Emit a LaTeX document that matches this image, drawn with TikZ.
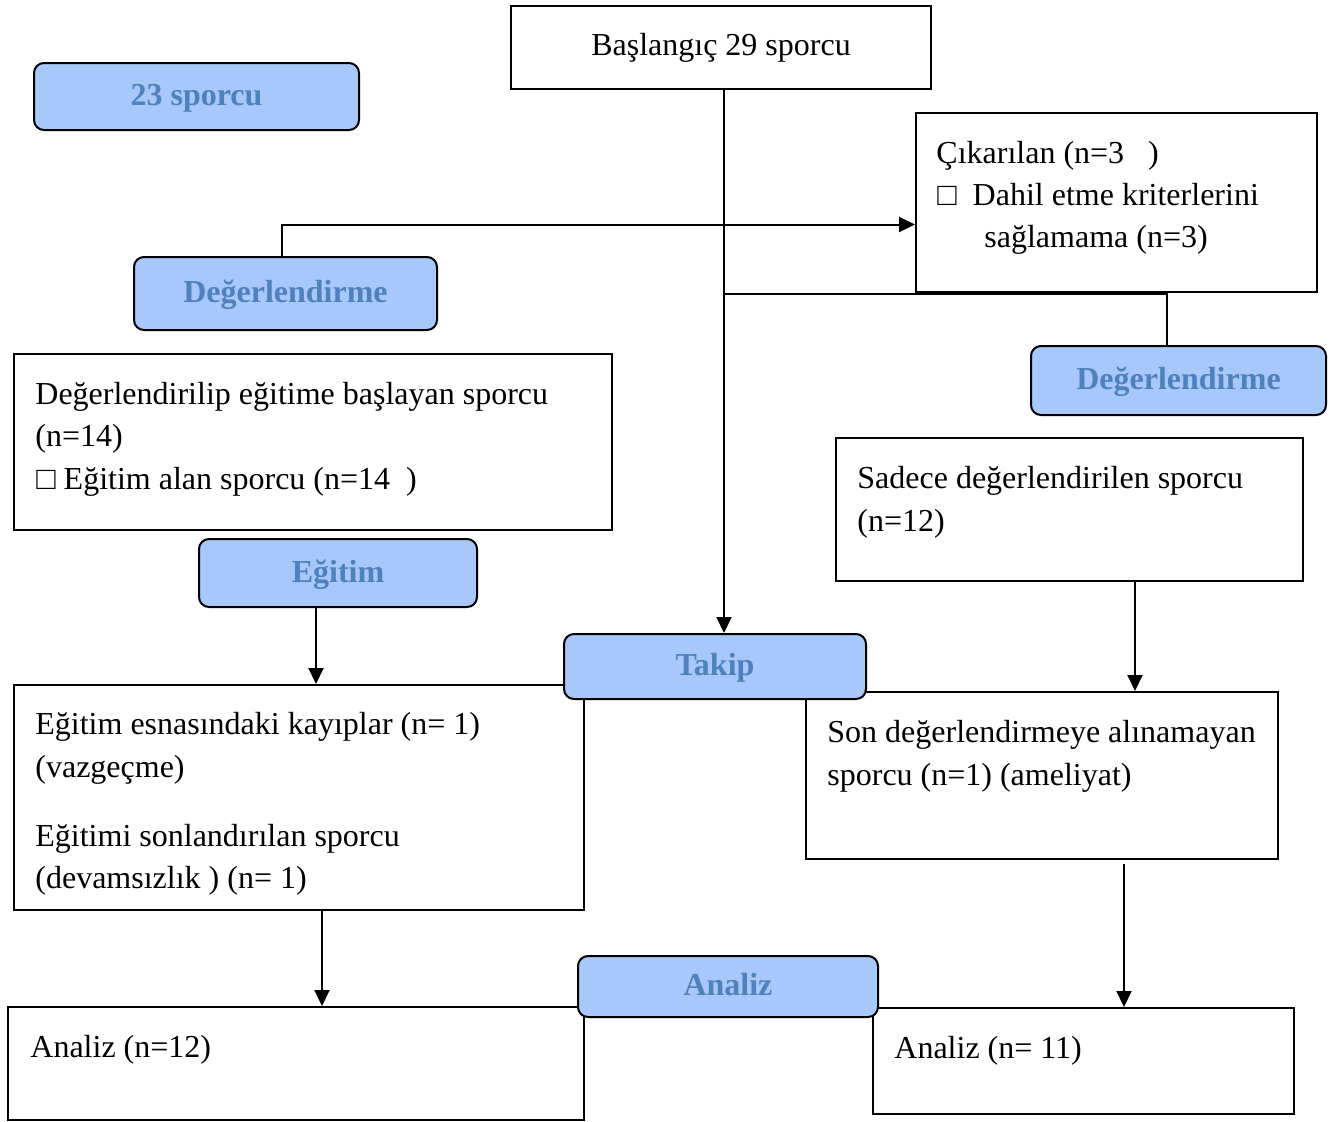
\documentclass[tikz,border=0pt]{standalone}
\usepackage{fontspec}
\setmainfont{Liberation Serif}
\usetikzlibrary{calc,positioning,arrows.meta}
\definecolor{stepfill}{HTML}{A8C7FA}
\definecolor{steptext}{HTML}{4F81BD}

\begin{document}
\begin{tikzpicture}[x=0.5pt, y=-0.5pt, font=\fontsize{16}{19}\selectfont,
    box/.style 2 args={draw, line width=1pt, minimum width=#1, minimum height=#2, inner sep=0pt},
    stepbox/.style 2 args={box={#1}{#2}, rounded corners=5pt, fill=stepfill, text=steptext,
      font=\fontsize{16}{19}\selectfont\bfseries, text height=11pt, text depth=2pt},
    txt/.style={anchor=mid west, inner sep=0pt},
    arr/.style={-{Triangle[length=8pt,width=7.5pt]}, line width=1pt}]
    \useasboundingbox (0,0) rectangle (1335,1121);

    % plain boxes
    \node[box={210pt}{41.5pt}] (start) at (721,47.5) {Başlangıç 29 sporcu};
    \node[box={200.5pt}{89.5pt}] (exclu) at (1116.5,202.5) {};
    \node[box={299pt}{88pt}] (started) at (313,442) {};
    \node[box={233.5pt}{71.5pt}] (evalonly) at (1069.5,509.5) {};
    \node[box={285pt}{112.5pt}] (loss) at (299,797.5) {};
    \node[box={236pt}{83.5pt}] (noeval) at (1042,775.5) {};
    \node[box={288pt}{56.5pt}] (anleft) at (296,1063.5) {};
    \node[box={210.5pt}{53pt}] (anright) at (1083.5,1061) {};

    % texts in the boxes
    \node[txt] (exclu1) at (936,159) {Çıkarılan (n=3\ \ \ )};
    \node[txt] (exclu2) at (937,201) {□\hspace{8pt}Dahil etme kriterlerini};
    \node[txt] (exclu3) at (984,243) {sağlamama (n=3)};
    \node[txt] (started1) at (35,400) {Değerlendirilip eğitime başlayan sporcu};
    \node[txt] (started2) at (35,442) {(n=14)};
    \node[txt] (started3) at (36,485) {□\hspace{4pt}Eğitim alan sporcu (n=14\ \ )};
    \node[txt] (evalonly1) at (857,484) {Sadece değerlendirilen sporcu};
    \node[txt] (evalonly2) at (857,527) {(n=12)};
    \node[txt] (loss1) at (35,730) {Eğitim esnasındaki kayıplar (n= 1)};
    \node[txt] (loss2) at (35,773) {(vazgeçme)};
    \node[txt] (loss3) at (35,842) {Eğitimi sonlandırılan sporcu};
    \node[txt] (loss4) at (35,884) {(devamsızlık ) (n= 1)};
    \node[txt] (noeval1) at (827,738) {Son değerlendirmeye alınamayan};
    \node[txt] (noeval2) at (827,781) {sporcu (n=1) (ameliyat)};
    \node[txt] (anleft1) at (30,1053) {Analiz (n=12)};
    \node[txt] (anright1) at (894,1054) {Analiz (n= 11)};

    % rounded step boxes
    \node[stepbox={162.5pt}{33.5pt}] (count) at (196.5,96.5) {23 sporcu};
    \node[stepbox={151.5pt}{36.5pt}] (evalL) at (285.5,293.5) {Değerlendirme};
    \node[stepbox={147.5pt}{34.5pt}] (evalR) at (1178.5,380.5) {Değerlendirme};
    \node[stepbox={139pt}{34pt}] (egitim) at (338,573) {Eğitim};
    \node[stepbox={151pt}{32.5pt}] (takip) at (715,666.5) {Takip};
    \node[stepbox={150pt}{30.5pt}] (analiz) at (728,986.5) {Analiz};

    % connectors
    \coordinate (branch) at (724,294);
    \draw[arr] ([xshift=1.5pt]start.south) -- ([xshift=1.5pt]start.south |- takip.north);
    \draw[arr] (evalL.north -| 282,0) |- ($(exclu.west)+(0,22)$);
    \draw[line width=1pt] (branch) -| ($(evalR.north)+(-12,0)$);
    \draw[arr] (egitim.south -| 316,0) -- (loss.north -| 316,0);
    \draw[arr] (evalonly.south -| 1135,0) -- (noeval.north -| 1135,0);
    \draw[arr] (loss.south -| 322,0) -- (anleft.north -| 322,0);
    \draw[arr] ($(noeval.south -| 1124,0)+(0,4)$) -- (anright.north -| 1124,0);

  \end{tikzpicture}
\end{document}
